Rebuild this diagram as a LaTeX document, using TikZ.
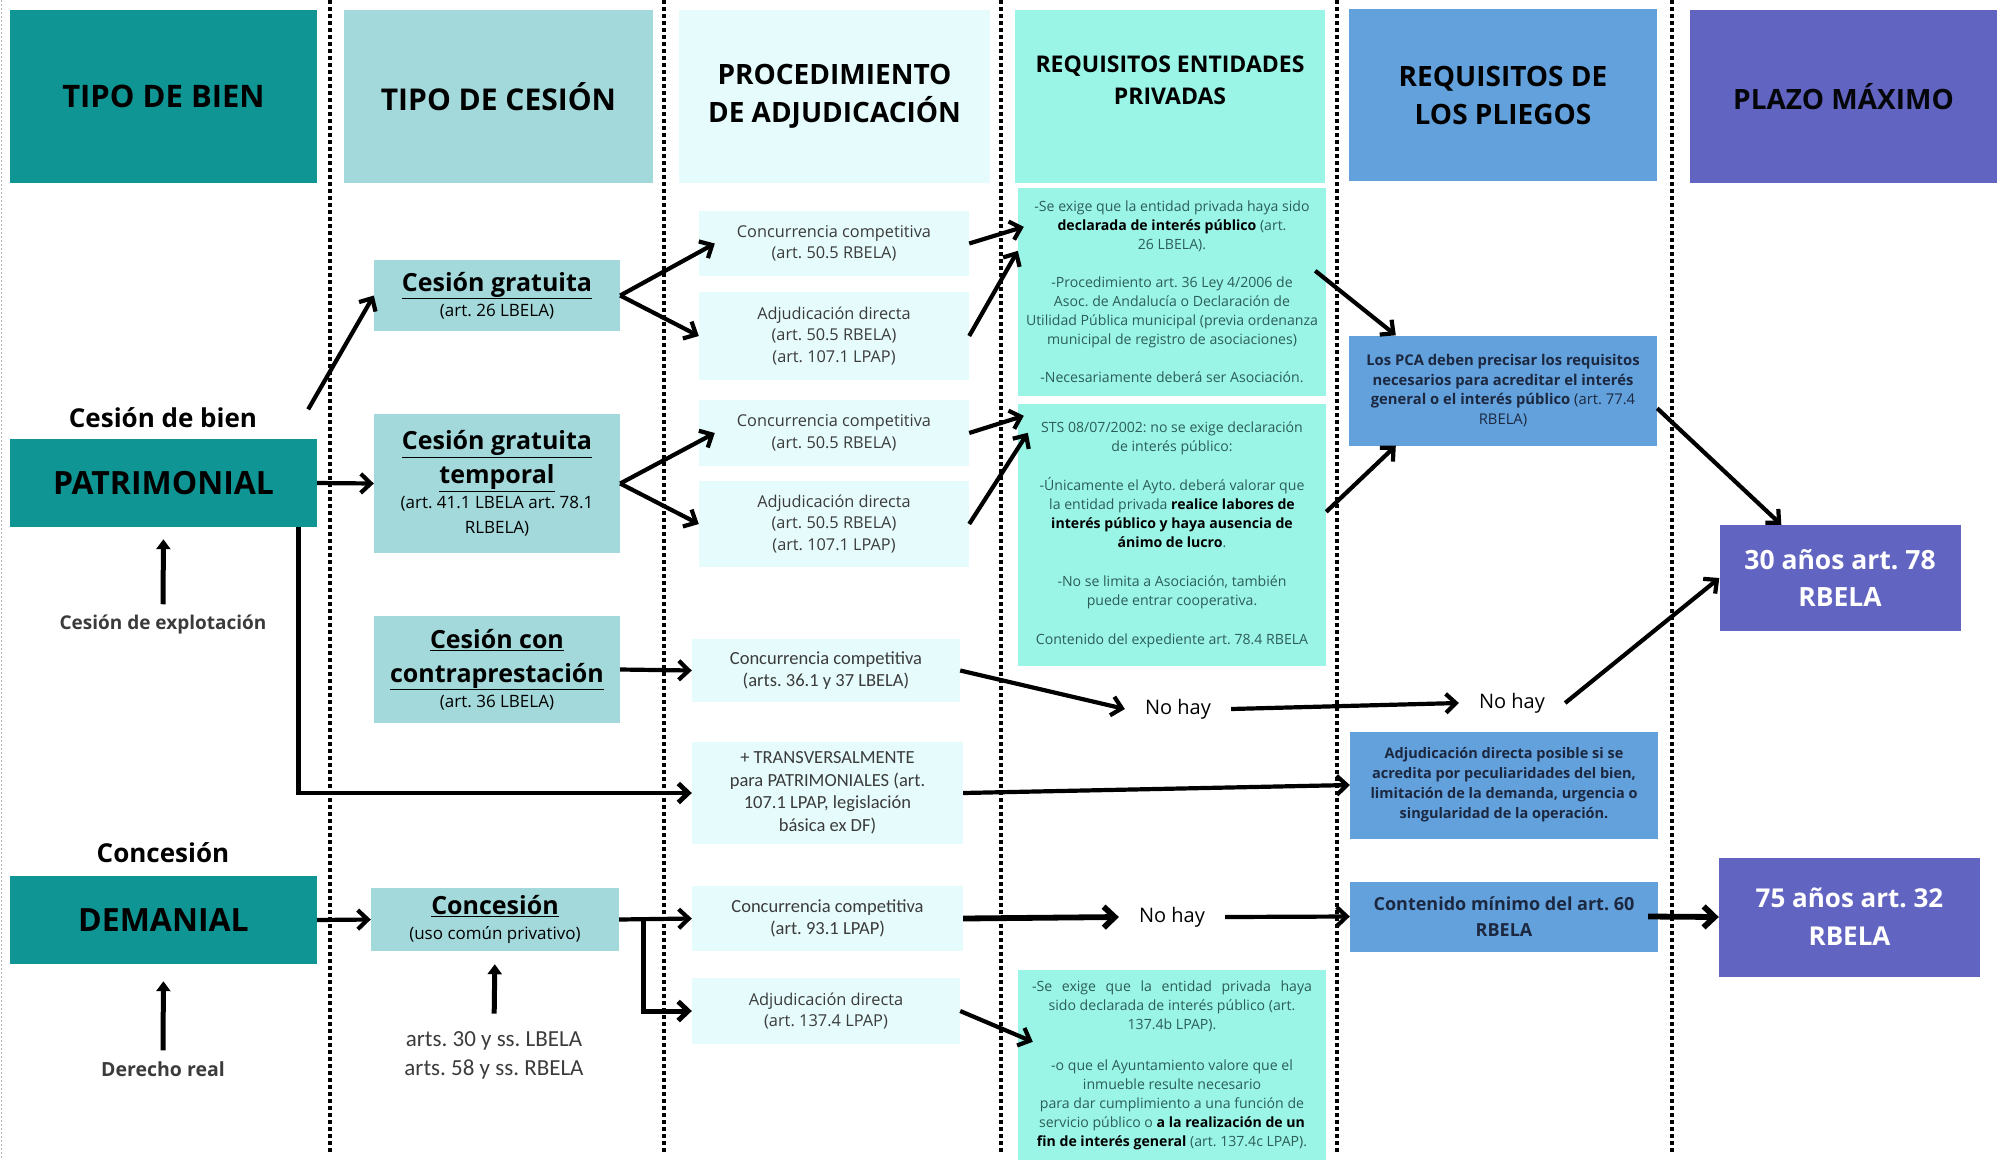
\documentclass[tikz,border=0pt]{standalone}
\usepackage{fontspec}
\setmainfont{Open Sans}
\newfontfamily\carlito{Carlito}
\usepackage{xcolor}
\usepackage{tikz}
\usetikzlibrary{arrows.meta}
\frenchspacing

\definecolor{verdeosc}{HTML}{0F9694}
\definecolor{verdecl}{HTML}{A3D9DB}
\definecolor{celeste}{HTML}{E6FBFC}
\definecolor{aguamar}{HTML}{9BF5E6}
\definecolor{azul}{HTML}{63A1DD}
\definecolor{morado}{HTML}{6264C1}
\definecolor{gristxt}{HTML}{3B3B3B}
\definecolor{tealtxt}{HTML}{2B5D59}
\definecolor{marino}{HTML}{1C2840}

\newcommand{\tam}[2]{\fontsize{#1}{#2}\selectfont}
\newcommand{\resalta}[1]{\textbf{\textcolor{black}{#1}}}
\newcommand{\nota}{\mdseries\tam{17}{25}}

\tikzset{
  cab/.style={minimum height=173pt,inner sep=0pt,align=center,text=black,font=\bfseries\tam{28}{38}},
  tipo/.style={fill=verdeosc,minimum width=307pt,minimum height=88pt,inner sep=0pt,font=\bfseries\tam{32}{38},text=black},
  etiq/.style={inner sep=2pt,font=\bfseries\tam{26}{30},text=black},
  cesion/.style={fill=verdecl,minimum width=246pt,inner sep=0pt,text width=240pt,align=flush center,font=\bfseries\tam{25}{34},text=black},
  proc/.style={fill=celeste,minimum width=270pt,inner sep=0pt,text width=262pt,align=flush center,font=\tam{16.3}{21.5},text=gristxt},
  req/.style={fill=aguamar,minimum width=308pt,inner sep=0pt,text width=302pt,align=flush center,font=\tam{14.1}{19},text=tealtxt},
  pliego/.style={fill=azul,minimum width=308pt,inner sep=0pt,text width=300pt,align=flush center,font=\bfseries\tam{14.8}{19.5},text=marino},
  plazo/.style={fill=morado,inner sep=0pt,align=center,font=\bfseries\tam{26.5}{37},text=white},
  nohay/.style={inner sep=20pt,font=\tam{20}{24},text=black},
  flecha/.style={line width=4.2pt,-{Straight Barb[length=10pt,width=19pt]}},
  gruesa/.style={line width=5.8pt,-{Straight Barb[length=11pt,width=21pt]}},
  sube/.style={line width=5pt,-{Triangle[length=10pt,width=14pt]}},
  puntos/.style={line width=3.5pt,dash pattern=on 3.5pt off 3.5pt},
}

\begin{document}
\begin{tikzpicture}[x=1pt,y=-1pt]
\useasboundingbox (0,0) rectangle (1997,1160);
%\draw[help lines] (0,0) grid[step=100] (1997,1160);
\draw[gray!60,line width=0.8pt,dash pattern=on 2pt off 2pt] (1,0) -- (1,1160);
\foreach \x in {330,664,1001,1337,1672}
  \draw[puntos] (\x,0) -- (\x,1152);

\node[cab,fill=verdeosc,minimum width=307pt,font=\bfseries\tam{31}{38}] (h1) at (163.5,96.5) {TIPO DE BIEN};
\node[cab,fill=verdecl,minimum width=309pt,font=\bfseries\tam{30}{38}] (h2) at (498.5,96.5) {TIPO DE CESIÓN};
\node[cab,fill=celeste,minimum width=311pt] (h3) at (834.5,96.5) {PROCEDIMIENTO\\DE ADJUDICACIÓN};
\node[cab,fill=aguamar,minimum width=310pt,font=\bfseries\tam{23}{32}] (h4) at (1170,96.5) {REQUISITOS ENTIDADES\\PRIVADAS\\ \mbox{}};
\node[cab,fill=azul,minimum width=308pt,minimum height=172pt] (h5) at (1503,95) {REQUISITOS DE\\LOS PLIEGOS};
\node[cab,fill=morado,minimum width=307pt,text=black!85!marino] (h6) at (1843.5,96.5) {PLAZO MÁXIMO};

\node[etiq] (lbien) at (163,418) {Cesión de bien};
\node[tipo] (pat) at (163.5,483) {PATRIMONIAL};
\node[etiq,font=\bfseries\tam{19}{22},text=gristxt] (expl) at (163,624) {Cesión de explotación};
\node[etiq] (lcon) at (163,853) {Concesión};
\node[tipo] (dem) at (163.5,920) {DEMANIAL};
\node[etiq,font=\bfseries\tam{19.5}{22},text=gristxt] (real) at (163,1069) {Derecho real};

\node[cesion,minimum height=71pt] (cg) at (497,295.5) {\underline{Cesión gratuita}\par{\nota (art. 26 LBELA)\par}};
\node[cesion,minimum height=139pt] (ct) at (497,483.5) {\underline{Cesión gratuita}\\ \underline{temporal}\par{\nota (art. 41.1 LBELA art. 78.1\\ RLBELA)\par}};
\node[cesion,minimum height=107pt] (cc) at (497,669.5) {\underline{Cesión con}\\ \underline{contraprestación}\par{\nota (art. 36 LBELA)\par}};
\node[cesion,minimum width=248pt,minimum height=63pt] (con) at (495,919.5) {\underline{Concesión}\par{\nota (uso común privativo)\par}};
\node[align=center,font=\carlito\tam{23}{29},text=gristxt] (arts) at (494,1055) {arts. 30 y ss. LBELA\\arts. 58 y ss. RBELA};

\node[proc,minimum height=65pt] (cc1) at (834,243.5) {Concurrencia competitiva\\ (art. 50.5 RBELA)};
\node[proc,minimum height=88pt] (ad1) at (834,336) {Adjudicación directa\\ (art. 50.5 RBELA)\\ (art. 107.1 LPAP)};
\node[proc,minimum height=66pt] (cc2) at (834,433) {Concurrencia competitiva\\ (art. 50.5 RBELA)};
\node[proc,minimum height=86pt] (ad2) at (834,524) {Adjudicación directa\\ (art. 50.5 RBELA)\\ (art. 107.1 LPAP)};
\node[proc,minimum width=268pt,minimum height=63pt,font=\carlito\tam{18.5}{22}] (cc3) at (826,670.5) {Concurrencia competitiva\\ (arts. 36.1 y 37 LBELA)};
\node[proc,minimum width=271pt,minimum height=102pt,font=\carlito\tam{18.5}{22.5}] (trans) at (827.5,793) {+ TRANSVERSALMENTE\\ para PATRIMONIALES (art.\\ 107.1 LPAP, legislación\\ básica ex DF)};
\node[proc,minimum width=271pt,minimum height=65pt,font=\carlito\tam{18.5}{22}] (cc4) at (827.5,918.5) {Concurrencia competitiva\\ (art. 93.1 LPAP)};
\node[proc,minimum width=268pt,minimum height=66pt,font=\tam{16.4}{21.5}] (ad4) at (826,1011) {Adjudicación directa\\ (art. 137.4 LPAP)};

\node[req,minimum height=208pt] (r1) at (1172,292) {-Se exige que la entidad privada haya sido\\
\resalta{declarada de interés público} (art.\\
26 LBELA).\\[19pt]
-Procedimiento art. 36 Ley 4/2006 de\\
Asoc. de Andalucía o Declaración de\\
Utilidad Pública municipal (previa ordenanza\\
municipal de registro de asociaciones)\\[19pt]
-Necesariamente deberá ser Asociación.};
\node[req,minimum height=262pt] (r2) at (1172,535) {STS 08/07/2002: no se exige declaración\\
de interés público:\\[20pt]
-Únicamente el Ayto. deberá valorar que\\
la entidad privada \resalta{realice labores de}\\
\resalta{interés público y haya ausencia de}\\
\resalta{ánimo de lucro}.\\[20pt]
-No se limita a Asociación, también\\
puede entrar cooperativa.\\[20pt]
Contenido del expediente art. 78.4 RBELA};
\node[req,minimum height=190pt] (r3) at (1172,1065) {\makebox[280pt][s]{-Se exige que la entidad privada haya}\\
sido declarada de interés público (art.\\
137.4b LPAP).\\[22pt]
-o que el Ayuntamiento valore que el\\
inmueble resulte necesario\\
para dar cumplimiento a una función de\\
servicio público o \resalta{a la realización de un}\\
\resalta{fin de interés general} (art. 137.4c LPAP).};

\node[nohay] (nh1) at (1178,709) {No hay};
\node[nohay] (nh2) at (1512,703) {No hay};
\node[nohay] (nh3) at (1172,917) {No hay};

\node[pliego,minimum height=110pt] (pca) at (1503,390.5) {Los PCA deben precisar los requisitos\\ necesarios para acreditar el interés\\ general o el interés público {\mdseries (art. 77.4}\\ {\mdseries RBELA)}};
\node[pliego,minimum height=107pt,font=\bfseries\tam{14.5}{20}] (adp) at (1504,785) {Adjudicación directa posible si se\\ acredita por peculiaridades del bien,\\ limitación de la demanda, urgencia o\\ singularidad de la operación.};
\node[pliego,minimum height=70pt,font=\bfseries\tam{18}{26}] (cm) at (1504,916.5) {Contenido mínimo del art. 60\\ RBELA};

\node[plazo,minimum width=241pt,minimum height=106pt] (t30) at (1840,578) {30 años art. 78\\ RBELA};
\node[plazo,minimum width=261pt,minimum height=119pt,font=\bfseries\tam{26}{38}] (t75) at (1849.5,917) {75 años art. 32\\ RBELA};

\draw[flecha,shorten <=34pt] ([xshift=-26pt]pat.north east) -- (cg.west);
\draw[flecha] (pat.east) -- (ct.west);
\draw[flecha,line width=4.8pt] ([xshift=-19pt]pat.south east) |- (trans.west);
\draw[flecha] (cg.east) -- ([xshift=16pt]cc1.west);
\draw[flecha] (cg.east) -- (ad1.west);
\draw[flecha] (ct.east) -- ([xshift=16pt]cc2.west);
\draw[flecha] (ct.east) -- (ad2.west);
\draw[flecha] (cc.east) -- (cc3.west);
\draw[flecha] (dem.east) -- (con.west);
\coordinate (rama) at ([xshift=24pt]con.east);
\draw[flecha] (con.east) -- (cc4.west);
\draw[flecha,line width=5pt] (rama) |- (ad4.west);
\draw[sube,shorten <=8pt,shorten >=12pt] (expl.north) -- (pat.south);
\draw[sube,shorten <=9pt,shorten >=17pt] (real.north) -- (dem.south);
\draw[sube,shorten <=14pt,shorten >=13pt] (arts.north) -- (con.south);

\draw[flecha] (cc1.east) -- ([xshift=6pt,yshift=-39pt]r1.north west);
\draw[flecha] (ad1.east) -- ([yshift=-63pt]r1.north west);
\draw[flecha] (cc2.east) -- ([xshift=6pt,yshift=-12pt]r2.north west);
\draw[flecha] (ad2.east) -- ([xshift=10pt,yshift=-29pt]r2.north west);
\draw[flecha] (cc3.east) -- (nh1.west);
\draw[flecha] (nh1.east) -- (nh2.west);
\draw[flecha] (nh2.east) -- (t30.west);
\draw[gruesa] (cc4.east) -- (nh3.west);
\draw[flecha] (nh3.east) -- (cm.west);
\draw[flecha] (ad4.east) -- ([xshift=15pt,yshift=-72pt]r3.north west);
\draw[flecha] (trans.east) -- (adp.west);
\draw[flecha] ([xshift=-11pt,yshift=-83pt]r1.north east) -- ([xshift=47pt]pca.north west);
\draw[flecha] ([yshift=-108pt]r2.north east) -- ([xshift=47pt]pca.south west);
\draw[flecha] ([yshift=-73pt]pca.north east) -- ([xshift=62pt]t30.north west);
\draw[gruesa] ([xshift=-10pt]cm.east) -- (t75.west);
\end{tikzpicture}
\end{document}
